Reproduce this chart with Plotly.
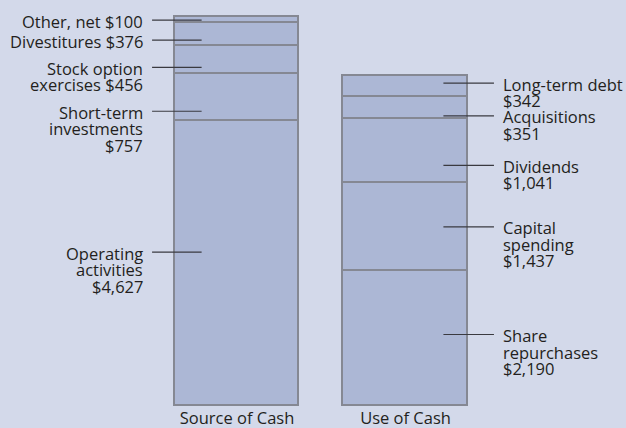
import plotly.graph_objects as go

# Sources and uses of cash ($ millions), listed bottom of each column to top
source_labels = ["Operating\nactivities\n", "Short-term\ninvestments\n",
                 "Stock option\nexercises ", "Divestitures ", "Other, net "]
source_values = [4627, 757, 456, 376, 100]

use_labels = ["Share\nrepurchases\n", "Capital\nspending\n", "Dividends\n",
              "Acquisitions\n", "Long-term debt\n"]
use_values = [2190, 1437, 1041, 351, 342]

columns = ["Source of Cash", "Use of Cash"]

# where each leader line meets its segment (fraction down from the segment top)
source_leader = [0.46, 0.79, 0.75, 0.73, 0.5]
use_leader = [0.47, 0.5, 0.73, 0.88, 0.35]

BG = "#d3d9ea"
FILL = "#acb7d5"
EDGE = "#858893"
INK = "#231f20"
FONT = "Open Sans"
FS = 16.5
LINE_H = 16.5

fig = go.Figure()

for xi, values in ((0, source_values), (1, use_values)):
    for v in values:
        fig.add_trace(go.Bar(
            x=[xi], y=[v], width=0.736,
            marker=dict(color=FILL, line=dict(color=EDGE, width=1.8)),
            showlegend=False, hoverinfo="skip",
        ))


def add_labels(xi, labels, values, fracs, side):
    top = 0
    for lab, v, f in zip(labels, values, fracs):
        top += v
        ly = top - f * v
        text = lab + f"${v:,}"
        if side == "left":
            x0, x1, tx, anchor = xi - 0.504, xi - 0.21, xi - 0.546, "right"
        else:
            x0, x1, tx, anchor = xi + 0.225, xi + 0.525, xi + 0.567, "left"
        fig.add_shape(type="line", xref="x", yref="y", x0=x0, x1=x1, y0=ly, y1=ly,
                      line=dict(color="#3a3a40", width=1.2))
        for i, line in enumerate(text.split("\n")):
            fig.add_annotation(x=tx, y=ly, xref="x", yref="y", text=line,
                               showarrow=False, xanchor=anchor, yanchor="middle",
                               align=anchor, yshift=-1 - i * LINE_H,
                               font=dict(family=FONT, size=FS, color=INK))


add_labels(0, source_labels, source_values, source_leader, "left")
add_labels(1, use_labels, use_values, use_leader, "right")

fig.update_layout(
    width=626, height=428,
    margin=dict(l=0, r=0, t=0, b=22),
    paper_bgcolor=BG, plot_bgcolor=BG,
    barmode="stack", bargap=0,
    font=dict(family=FONT, size=FS, color=INK),
    xaxis=dict(range=[-1.4065, 2.3086], tickvals=[0, 1], ticktext=columns,
               showgrid=False, zeroline=False, showline=False, ticks="",
               tickfont=dict(family=FONT, size=FS, color=INK), fixedrange=True),
    yaxis=dict(range=[0, 6592], visible=False, fixedrange=True),
)

fig.write_html("out.html")
